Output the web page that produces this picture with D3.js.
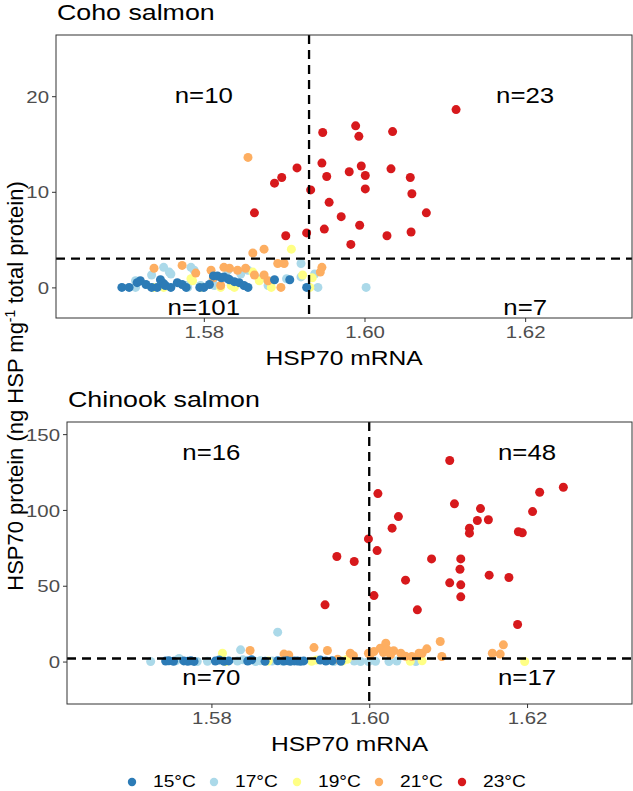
<!DOCTYPE html>
<html>
<head>
<meta charset="utf-8">
<script src="https://cdn.jsdelivr.net/npm/d3@7"></script>
<style>
body { margin: 0; background: #fff; }
svg { display: block; font-family: 'Liberation Sans', Arial, sans-serif; }
</style>
</head>
<body>
<svg id="chart" width="633" height="791"></svg>
<script>
// legend / temperature groups
const TEMPS = ['15°C', '17°C', '19°C', '21°C', '23°C'];
const COLORS = ['#2C7BB6', '#ABD9E9', '#FFFF85', '#FDAE61', '#D7191C'];

const X_TICKS = [1.58, 1.60, 1.62];
const COHO_Y_TICKS = [0, 10, 20];
const CHINOOK_Y_TICKS = [0, 50, 100, 150];

// Coho salmon  [mRNA, protein]
const COHO_15 = [[1.5698,0],[1.5707,0],[1.5717,0.5],[1.5721,0.7],[1.5728,0.3],[1.5735,0],[1.5742,0],[1.5746,0.8],
	[1.5750,0.4],[1.5752,0.2],[1.5759,0],[1.5767,0.5],[1.5773,0.3],[1.5778,0],[1.5795,0],[1.5800,0],[1.5807,0.3],
	[1.5812,1.2],[1.5817,1.2],[1.5822,1.0],[1.5825,1.1],[1.5830,0.9],[1.5832,0.8],[1.5838,0.6],[1.5844,0.5],
	[1.5850,0.2],[1.5855,0],[1.5888,0.8],[1.5907,0.8],[1.5928,0]];
const COHO_17 = [[1.5715,0],[1.5715,0.7],[1.5735,1.3],[1.5750,2.1],[1.5757,1.6],[1.5759,1.4],[1.5778,0.2],[1.5780,0],
	[1.5784,2.1],[1.5788,1.8],[1.5796,0.2],[1.5800,0],[1.5811,0.7],[1.5813,0.2],[1.5830,1.8],[1.5846,1.4],
	[1.5855,1.8],[1.5871,0.9],[1.5880,0.2],[1.5903,0.9],[1.5921,2.5],[1.5921,1.1],[1.5938,1.4],[1.5942,0],[1.6002,0]];
const COHO_19 = [[1.5738,0],[1.5750,0],[1.5784,0.9],[1.5786,0.7],[1.5796,0],[1.5821,0],[1.5834,0.2],[1.5838,0],
	[1.5861,1.6],[1.5869,0.7],[1.5884,0],[1.5909,4.0],[1.5923,1.3],[1.5932,0],[1.5935,1.0]];
const COHO_21 = [[1.5738,2.0],[1.5773,2.3],[1.5790,1.5],[1.5809,1.8],[1.5812,1.0],[1.5821,0.2],[1.5825,2.1],
	[1.5832,2.0],[1.5842,1.8],[1.5852,2.0],[1.5855,13.6],[1.5861,3.6],[1.5863,1.3],[1.5875,4.0],[1.5875,1.3],
	[1.5880,0.7],[1.5892,2.5],[1.5900,2.5],[1.5896,0],[1.5945,1.6],[1.5947,2.1]];
const COHO_23 = [[1.6114,18.6],[1.5989,16.9],[1.5948,16.2],[1.5993,15.8],[1.6035,16.3],[1.5916,12.5],[1.5947,13.0],
	[1.5996,12.7],[1.6033,12.4],[1.5897,11.5],[1.5888,10.9],[1.5953,11.6],[1.5981,12.1],[1.6001,11.7],[1.6057,11.5],
	[1.5933,10.2],[1.6001,10.3],[1.6059,9.8],[1.5863,7.8],[1.5956,8.9],[1.5971,7.4],[1.6077,7.8],[1.5902,5.4],
	[1.5928,5.7],[1.5950,6.1],[1.5994,6.5],[1.6028,5.4],[1.6058,5.8],[1.5983,4.5]];

// Chinook salmon  [mRNA, protein]
const CHINOOK_15 = [[1.5742,0.3],[1.5746,0.5],[1.5752,0.2],[1.5765,0.4],[1.5770,0.2],[1.5774,0.5],[1.5778,0.1],
	[1.5805,0.3],[1.5810,1.0],[1.5816,0.2],[1.5822,0.4],[1.5846,0.3],[1.5851,1.2],[1.5868,0.2],[1.5884,0.5],
	[1.5892,0.3],[1.5896,0.6],[1.5900,0.2],[1.5905,0.4],[1.5909,0.3],[1.5913,0.2],[1.5917,0.4],[1.5938,1.0],
	[1.5945,0.3],[1.5953,0.5],[1.5964,0.2]];
const CHINOOK_17 = [[1.5723,0],[1.5755,0.5],[1.5759,2.0],[1.5782,0],[1.5795,0.2],[1.5833,0.3],[1.5837,7.7],
	[1.5840,1.2],[1.5856,0],[1.5862,0.5],[1.5877,0.3],[1.5884,19.4],[1.5890,0.2],[1.5955,0],[1.5981,0.3],
	[1.5989,0],[1.5999,0],[1.6008,0.2],[1.6025,0],[1.6035,0.3],[1.6059,0]];
const CHINOOK_19 = [[1.5814,5.5],[1.5814,1.1],[1.5818,0],[1.5872,0.3],[1.5927,0.2],[1.5933,1.0],[1.5966,0.3],
	[1.5972,1.5],[1.6052,0.2],[1.6067,0.5],[1.6197,0]];
const CHINOOK_21 = [[1.5849,7.3],[1.5892,4.9],[1.5898,4.4],[1.5930,9.2],[1.5947,7.3],[1.5960,1.5],[1.5976,5.5],
	[1.5980,3.8],[1.5999,5.5],[1.6001,4.4],[1.6006,6.6],[1.6014,8.8],[1.6018,6.0],[1.6021,12.1],[1.6023,7.7],
	[1.6027,4.5],[1.6031,7.1],[1.6040,5.5],[1.6046,3.5],[1.6054,3.3],[1.6063,5.5],[1.6067,5.5],[1.6073,8.4],
	[1.6090,13.2],[1.6092,3.3],[1.6156,5.5],[1.6166,4.9],[1.6170,11.0]];
const CHINOOK_23 = [[1.6102,132.6],[1.6246,115.0],[1.6216,111.7],[1.6011,110.8],[1.6108,104.0],[1.6141,100.9],
	[1.6207,98.9],[1.6137,93.0],[1.6151,93.5],[1.6037,95.6],[1.6029,88.0],[1.6127,88.0],[1.6127,84.7],
	[1.6189,85.6],[1.6194,84.9],[1.5999,80.9],[1.6010,73.2],[1.5959,69.3],[1.5981,66.0],[1.6079,67.7],
	[1.6116,67.7],[1.6115,60.9],[1.6046,53.7],[1.6102,51.9],[1.6116,50.6],[1.6152,57.0],[1.6177,55.4],
	[1.6006,43.5],[1.6116,42.7],[1.5944,37.4],[1.6061,34.1],[1.6188,24.4]];

// quadrant counts: labels and where they sit
const COHO_COUNTS = ['n=10', 'n=23', 'n=101', 'n=7'];
const CHINOOK_COUNTS = ['n=16', 'n=48', 'n=70', 'n=17'];
const COUNT_X = [1.58, 1.62, 1.58, 1.62];
const COHO_COUNT_Y = [20, 20, -2.1, -2.1];
const CHINOOK_COUNT_Y = [138, 138, -11, -11];

// threshold lines [mRNA, protein]
const COHO_CUT = [1.5931, 3];
const CHINOOK_CUT = [1.60, 2];

const STRETCH = 1.2; // the original figure is a bit wider than tall

const svg = d3.select('#chart');

function stretched(sel) {
	return sel.attr('transform', function() {
		const t = d3.select(this).attr('transform') || '';
		return t + ` scale(${STRETCH},1)`;
	});
}

function drawPanel(p) {
	const x = d3.scaleLinear().domain(p.xDomain).range([p.left, p.right]);
	const y = d3.scaleLinear().domain(p.yDomain).range([p.bottom, p.top]);
	const g = svg.append('g');

	// title
	g.append('text')
		.attr('transform', `translate(${p.left + 1},${p.top - 15})`)
		.attr('font-size', 22.3)
		.attr('fill', '#000')
		.text(p.title)
		.call(stretched);

	// points
	const series = p.series.map((pts, i) => pts.map(d => ({x: d[0], y: d[1], c: COLORS[i]})));
	const order = [1, 2, 3, 0, 4];
	order.forEach(i => {
		g.selectAll(null)
			.data(series[i])
			.enter().append('circle')
				.attr('cx', d => x(d.x))
				.attr('cy', d => y(d.y))
				.attr('r', 4.5)
				.style('fill', d => d.c);
	});

	// dashed threshold lines
	g.append('line')
		.attr('x1', x(p.cut[0])).attr('x2', x(p.cut[0]))
		.attr('y1', p.top).attr('y2', p.bottom)
		.attr('stroke', '#000').attr('stroke-width', 2.3).attr('stroke-dasharray', '9,6');
	g.append('line')
		.attr('x1', p.left).attr('x2', p.right)
		.attr('y1', y(p.cut[1])).attr('y2', y(p.cut[1]))
		.attr('stroke', '#000').attr('stroke-width', 2.3).attr('stroke-dasharray', '9,6');

	// counts
	p.counts.forEach((lab, i) => {
		g.append('text')
			.attr('transform', `translate(${x(COUNT_X[i])},${y(p.countY[i])})`)
			.attr('text-anchor', 'middle')
			.attr('dominant-baseline', 'central')
			.attr('font-size', 21.5)
			.text(lab)
			.call(stretched);
	});

	// frame
	g.append('rect')
		.attr('x', p.left).attr('y', p.top)
		.attr('width', p.right - p.left).attr('height', p.bottom - p.top)
		.attr('fill', 'none').attr('stroke', '#333').attr('stroke-width', 1);

	// axes
	const ax = g.append('g')
		.attr('transform', `translate(0,${p.bottom})`)
		.call(d3.axisBottom(x).tickValues(X_TICKS).tickFormat(d3.format('.2f')).tickSize(4).tickPadding(4));
	const ay = g.append('g')
		.attr('transform', `translate(${p.left},0)`)
		.call(d3.axisLeft(y).tickValues(p.yTicks).tickSize(4).tickPadding(3));
	[ax, ay].forEach(a => {
		a.select('.domain').remove();
		a.selectAll('line').attr('stroke', '#333');
		a.selectAll('text').attr('font-size', 17).attr('fill', '#4D4D4D')
			.attr('font-family', "'Liberation Sans', Arial, sans-serif");
	});
	ax.selectAll('text').attr('transform', `scale(${STRETCH},1)`);
	ay.selectAll('text').attr('x', -7 / STRETCH).attr('dy', '0.36em').attr('transform', `scale(${STRETCH},1)`);

	// x title
	g.append('text')
		.attr('transform', `translate(${(p.left + p.right) / 2},${p.bottom + 47})`)
		.attr('text-anchor', 'middle')
		.attr('font-size', 20.5)
		.text('HSP70 mRNA')
		.call(stretched);
}

drawPanel({
	title: 'Coho salmon', left: 56, right: 632, top: 35, bottom: 318,
	xDomain: [1.5616, 1.6333], yDomain: [-3.2, 26.4], yTicks: COHO_Y_TICKS,
	series: [COHO_15, COHO_17, COHO_19, COHO_21, COHO_23],
	cut: COHO_CUT, counts: COHO_COUNTS, countY: COHO_COUNT_Y
});
drawPanel({
	title: 'Chinook salmon', left: 67, right: 632, top: 422, bottom: 704,
	xDomain: [1.5617, 1.6333], yDomain: [-28, 158], yTicks: CHINOOK_Y_TICKS,
	series: [CHINOOK_15, CHINOOK_17, CHINOOK_19, CHINOOK_21, CHINOOK_23],
	cut: CHINOOK_CUT, counts: CHINOOK_COUNTS, countY: CHINOOK_COUNT_Y
});

// shared y title
const yt = svg.append('text')
	.attr('transform', 'translate(23,386) rotate(-90)')
	.attr('text-anchor', 'middle')
	.attr('font-size', 22);
yt.append('tspan').text('HSP70 protein (ng HSP mg');
yt.append('tspan').attr('font-size', 14).attr('dy', -8).text('-1');
yt.append('tspan').attr('dy', 8).text(' total protein)');

// legend
const legendX = [132, 214, 297, 379, 462];
const lg = svg.append('g');
TEMPS.forEach((t, i) => {
	lg.append('circle').attr('cx', legendX[i]).attr('cy', 782).attr('r', 4.2).style('fill', COLORS[i]);
	lg.append('text')
		.attr('transform', `translate(${legendX[i] + 21},787)`)
		.attr('font-size', 16)
		.text(t)
		.call(stretched);
});
</script>
</body>
</html>
